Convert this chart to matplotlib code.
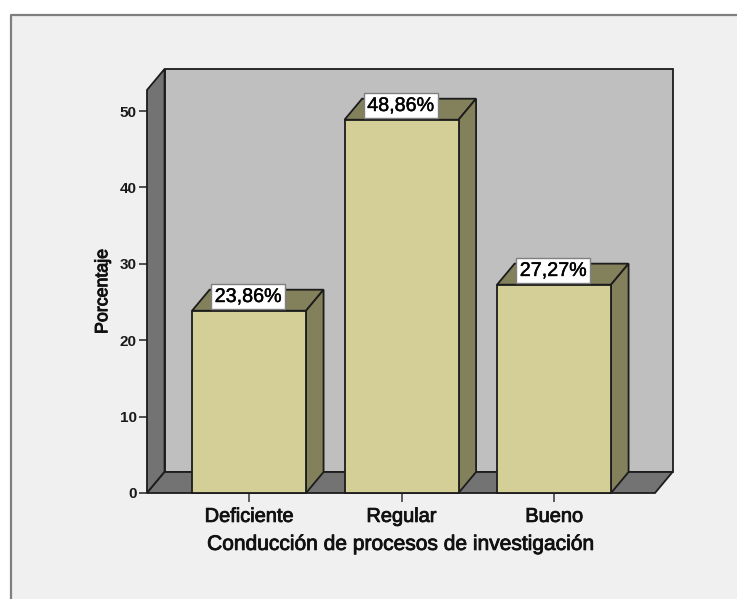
#!/usr/bin/env python3
"""Bar chart (SPSS style, fake 3D) for Conduccion de procesos de investigacion."""

import matplotlib
matplotlib.use('Agg')
import matplotlib.pyplot as plt
import matplotlib.patheffects as pe
from matplotlib.patches import Polygon, Rectangle

plt.rcParams['font.family'] = ['Liberation Sans', 'DejaVu Sans']

categories = ['Deficiente', 'Regular', 'Bueno']
values = [23.86, 48.86, 27.27]
value_labels = ['23,86%', '48,86%', '27,27%']
y_ticks = [0, 10, 20, 30, 40, 50]
x_title = 'Conducción de procesos de investigación'
y_title = 'Porcentaje'

W, H = 737, 599
DARK = '#1c1c1c'
WALL = '#bfbfbf'
SIDE = '#737373'
FACE = '#d3cf97'
FACE_DARK = '#83805c'

# fake depth, in data units
DX = 0.115
DY = 2.75
BAR_W = 0.7475
X0, X1 = -0.669, 2.662
Y1 = 52.75


def heavy(width):
    """Thicken regular text a little, the reference has a smeared semi-bold look."""
    return [pe.withStroke(linewidth=width, foreground='#111111')]


def main():
    fig = plt.figure(figsize=(W / 100, H / 100), dpi=100, facecolor='white')

    # grey panel with frame on top and left only
    fig.add_artist(Rectangle((10 / W, 0), 1, 1 - 15 / H, transform=fig.transFigure,
                             facecolor='#f0f0f0', edgecolor='none', zorder=-2))
    fig.add_artist(plt.Line2D([10.5 / W, 10.5 / W, 1], [0, 1 - 15 / H, 1 - 15 / H],
                              transform=fig.transFigure, color='#7f7f7f', linewidth=1.6,
                              zorder=-1))

    ax = fig.add_axes([147 / W, 1 - 493 / H, 508 / W, 403 / H])
    ax.patch.set_alpha(0)
    ax.set_xlim(X0, X1)
    ax.set_ylim(0, Y1)

    def poly(pts, color, z):
        ax.add_patch(Polygon(pts, closed=True, facecolor=color, edgecolor=DARK,
                             linewidth=1.3, clip_on=False, zorder=z, joinstyle='miter'))

    # back wall, left wall, floor
    poly([(X0 + DX, DY), (X1 + DX, DY), (X1 + DX, Y1 + DY), (X0 + DX, Y1 + DY)], WALL, 1)
    poly([(X0, 0), (X0 + DX, DY), (X0 + DX, Y1 + DY), (X0, Y1)], SIDE, 2)
    poly([(X0, 0), (X1, 0), (X1 + DX, DY), (X0 + DX, DY)], SIDE, 2)

    for i, val in enumerate(values):
        l, r = i - BAR_W / 2, i + BAR_W / 2
        poly([(l, val), (r, val), (r + DX, val + DY), (l + DX, val + DY)], FACE_DARK, 3)
        poly([(r, 0), (r + DX, DY), (r + DX, val + DY), (r, val)], FACE_DARK, 3)
        poly([(l, 0), (r, 0), (r, val), (l, val)], FACE, 4)
        txt = ax.annotate(value_labels[i], (i, val), xytext=(-0.5, 3.4), textcoords='offset points',
                          ha='center', va='bottom', fontsize=14.2, color='black', zorder=6,
                          bbox=dict(boxstyle='square,pad=0.17', facecolor='white',
                                    edgecolor='#808080', linewidth=1.0),
                          annotation_clip=False)
        txt.set_path_effects(heavy(0.35))

    for s in ['top', 'right', 'left', 'bottom']:
        ax.spines[s].set_visible(False)

    ax.set_yticks(y_ticks)
    ax.set_yticklabels([str(t) for t in y_ticks], fontsize=11, fontweight='bold')
    ax.set_xticks(range(len(categories)))
    ax.set_xticklabels(categories, fontsize=14.4)
    ax.tick_params(axis='y', length=6, width=1.2, color='#333333', pad=1.5, labelcolor='#1a1a1a')
    ax.tick_params(axis='x', length=6.5, width=1.2, color='#444444', pad=3.5, labelcolor='#111111')
    for lab in ax.get_xticklabels():
        lab.set_path_effects(heavy(0.6))

    xl = ax.set_xlabel(x_title, fontsize=15.1, labelpad=6.5, color='#111111')
    xl.set_path_effects(heavy(0.6))
    yl = ax.set_ylabel(y_title, fontsize=12.8, labelpad=6, color='#111111')
    yl.set_path_effects(heavy(0.7))

    fig.savefig('out.png', dpi=100, facecolor=fig.get_facecolor())


if __name__ == "__main__":
    main()
